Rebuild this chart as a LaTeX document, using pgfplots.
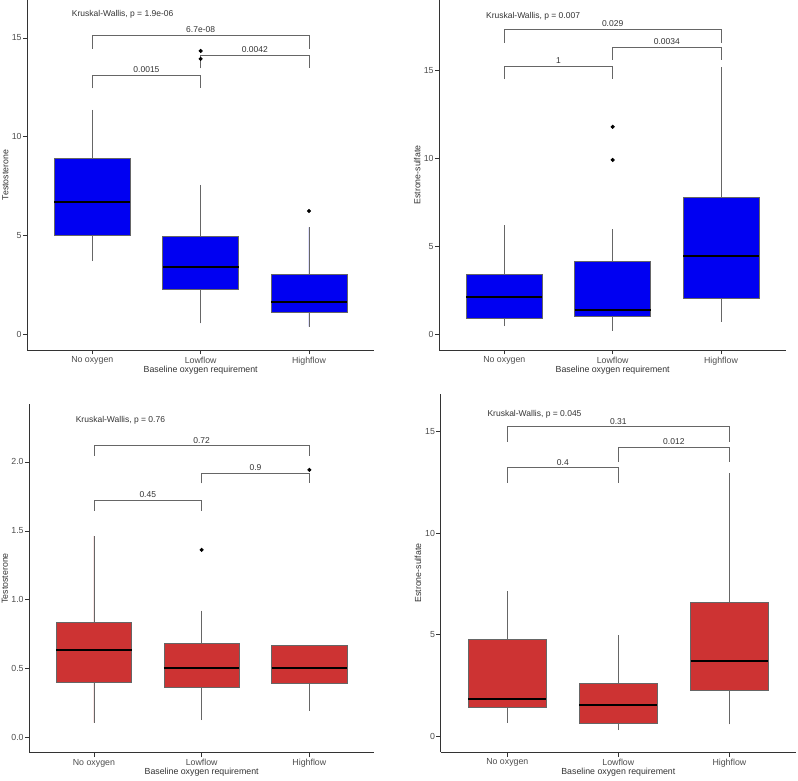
\documentclass[border=0pt]{standalone}
\usepackage{pgfplots}
\pgfplotsset{compat=1.18}
\usepgfplotslibrary{statistics}
\usepackage{fontspec}
\setmainfont{Liberation Sans}
\definecolor{boxblue}{HTML}{0000F2}
\definecolor{boxred}{HTML}{CD3333}
\definecolor{edge}{HTML}{666666}
\definecolor{txt}{HTML}{333333}
\definecolor{tickc}{HTML}{4D4D4D}
\tikzset{
 lab/.style={anchor=base, font=\fontsize{8.5}{10}\selectfont, text=txt, yshift=2.5pt, inner sep=0pt},
 kw/.style={anchor=west, font=\fontsize{8.5}{10}\selectfont, text=txt, inner sep=0pt},
}
\pgfplotsset{
 panel/.style={
  scale only axis,
  anchor=south west,
  axis x line=bottom, axis y line=left,
  axis line style={-, black!80, line width=0.7pt},
  tick align=outside,
  major tick length=4.5pt,
  tick style={black!80, line width=0.7pt},
  xmin=0.4, xmax=3.6,
  xtick={1,2,3},
  xticklabels={No oxygen,Lowflow,Highflow},
  ticklabel style={font=\fontsize{8.8}{10}\selectfont, text=tickc},
  yticklabel style={inner sep=1pt},
  xticklabel style={inner sep=2pt},
  /pgf/number format/assume math mode=true,
  every axis x label/.style={at={(axis description cs:0.5,0)}, anchor=center, yshift=-20pt, font=\fontsize{8.8}{10}\selectfont, text=txt},
  xlabel={Baseline oxygen requirement},
  boxplot/draw direction=y,
  boxplot/box extend=0.7,
  boxplot/whisker extend=0,
  boxplot/every median/.style={draw=black, line width=1.9pt},
  boxplot/every whisker/.style={draw=edge, line width=0.8pt},
  clip=false,
 },
 ylab/.style={every axis y label/.style={at={([xshift=-#1]axis description cs:0,0.5)}, rotate=90, anchor=center, font=\fontsize{8.8}{10}\selectfont, text=txt}},
 bx/.style={draw=edge, line width=0.8pt, fill=#1, mark=*, mark size=1.6pt, mark options={draw=black, fill=black}},
 br/.style={draw=edge, line width=0.8pt},
}
\begin{document}
\begin{tikzpicture}
\path[use as bounding box] (0,0) rectangle (798pt,780pt);
% Panel 1
\begin{axis}[panel, ylab=22pt, at={(27.3pt,430pt)}, width=346.7pt, height=350pt,
  ymin=-0.79, ymax=16.92, ytick={0,5,10,15}, ylabel={Testosterone}]
\addplot[bx=boxblue, boxplot prepared={draw position=1, lower whisker=3.71, lower quartile=5.03, median=6.68, upper quartile=8.89, upper whisker=11.36}] coordinates {};
\addplot[bx=boxblue, boxplot prepared={draw position=2, lower whisker=0.56, lower quartile=2.29, median=3.39, upper quartile=4.94, upper whisker=7.56}] coordinates {(2,14.34) (2,13.94)};
\addplot[bx=boxblue, boxplot prepared={draw position=3, lower whisker=0.39, lower quartile=1.11, median=1.64, upper quartile=3.02, upper whisker=5.42}] coordinates {(3,6.24)};
\addplot[br] coordinates {(1,12.45) (1,13.11) (2,13.11) (2,12.45)};
\addplot[br] coordinates {(2,13.46) (2,14.12) (3,14.12) (3,13.46)};
\addplot[br] coordinates {(1,14.46) (1,15.13) (3,15.13) (3,14.46)};
\node[lab] at (axis cs:1.5,13.11) {0.0015};
\node[lab] at (axis cs:2.5,14.12) {0.0042};
\node[lab] at (axis cs:2,15.13) {6.7e-08};
\node[kw] at (axis cs:0.81,16.18) {Kruskal-Wallis, p = 1.9e-06};
\end{axis}
% Panel 2
\begin{axis}[panel, ylab=22pt, at={(439.3pt,430pt)}, width=346.7pt, height=350pt,
  ymin=-0.87, ymax=19.0, ytick={0,5,10,15}, ylabel={Estrone-sulfate}]
\addplot[bx=boxblue, boxplot prepared={draw position=1, lower whisker=0.49, lower quartile=0.93, median=2.12, upper quartile=3.45, upper whisker=6.21}] coordinates {};
\addplot[bx=boxblue, boxplot prepared={draw position=2, lower whisker=0.21, lower quartile=1.02, median=1.42, upper quartile=4.15, upper whisker=5.98}] coordinates {(2,11.80) (2,9.92)};
\addplot[bx=boxblue, boxplot prepared={draw position=3, lower whisker=0.74, lower quartile=2.06, median=4.45, upper quartile=7.82, upper whisker=15.19}] coordinates {};
\addplot[br] coordinates {(1,14.51) (1,15.25) (2,15.25) (2,14.51)};
\addplot[br] coordinates {(2,15.61) (2,16.33) (3,16.33) (3,15.61)};
\addplot[br] coordinates {(1,16.57) (1,17.35) (3,17.35) (3,16.57)};
\node[lab] at (axis cs:1.5,15.25) {1};
\node[lab] at (axis cs:2.5,16.33) {0.0034};
\node[lab] at (axis cs:2,17.35) {0.029};
\node[kw] at (axis cs:0.83,18.09) {Kruskal-Wallis, p = 0.007};
\end{axis}
% Panel 3
\begin{axis}[panel, ylab=24.3pt, at={(29.3pt,27.3pt)}, width=344.7pt, height=348.7pt,
  ymin=-0.109, ymax=2.42, ytick={0,0.5,1,1.5,2}, ylabel={Testosterone},
  yticklabel style={/pgf/number format/.cd, fixed, fixed zerofill, precision=1}]
\addplot[bx=boxred, boxplot prepared={draw position=1, lower whisker=0.109, lower quartile=0.399, median=0.634, upper quartile=0.837, upper whisker=1.463}] coordinates {};
\addplot[bx=boxred, boxplot prepared={draw position=2, lower whisker=0.128, lower quartile=0.363, median=0.508, upper quartile=0.684, upper whisker=0.921}] coordinates {(2,1.362)};
\addplot[bx=boxred, boxplot prepared={draw position=3, lower whisker=0.196, lower quartile=0.392, median=0.508, upper quartile=0.670, upper whisker=0.670}] coordinates {(3,1.942)};
\addplot[br] coordinates {(1,1.647) (1,1.722) (2,1.722) (2,1.647)};
\addplot[br] coordinates {(2,1.845) (2,1.918) (3,1.918) (3,1.845)};
\addplot[br] coordinates {(1,2.044) (1,2.118) (3,2.118) (3,2.044)};
\node[lab] at (axis cs:1.5,1.722) {0.45};
\node[lab] at (axis cs:2.5,1.918) {0.9};
\node[lab] at (axis cs:2,2.118) {0.72};
\node[kw] at (axis cs:0.83,2.30) {Kruskal-Wallis, p = 0.76};
\end{axis}
% Panel 4
\begin{axis}[panel, ylab=22.7pt, at={(440.7pt,28pt)}, width=355.3pt, height=358pt,
  ymin=-0.77, ymax=16.84, ytick={0,5,10,15}, ylabel={Estrone-sulfate}]
\addplot[bx=boxred, boxplot prepared={draw position=1, lower whisker=0.66, lower quartile=1.43, median=1.82, upper quartile=4.75, upper whisker=7.13}] coordinates {};
\addplot[bx=boxred, boxplot prepared={draw position=2, lower whisker=0.30, lower quartile=0.66, median=1.54, upper quartile=2.61, upper whisker=4.98}] coordinates {};
\addplot[bx=boxred, boxplot prepared={draw position=3, lower whisker=0.59, lower quartile=2.25, median=3.72, upper quartile=6.59, upper whisker=12.93}] coordinates {};
\addplot[br] coordinates {(1,12.48) (1,13.21) (2,13.21) (2,12.48)};
\addplot[br] coordinates {(2,13.51) (2,14.23) (3,14.23) (3,13.51)};
\addplot[br] coordinates {(1,14.49) (1,15.23) (3,15.23) (3,14.49)};
\node[lab] at (axis cs:1.5,13.21) {0.4};
\node[lab] at (axis cs:2.5,14.23) {0.012};
\node[lab] at (axis cs:2,15.23) {0.31};
\node[kw] at (axis cs:0.82,15.85) {Kruskal-Wallis, p = 0.045};
\end{axis}
\end{tikzpicture}
\end{document}
